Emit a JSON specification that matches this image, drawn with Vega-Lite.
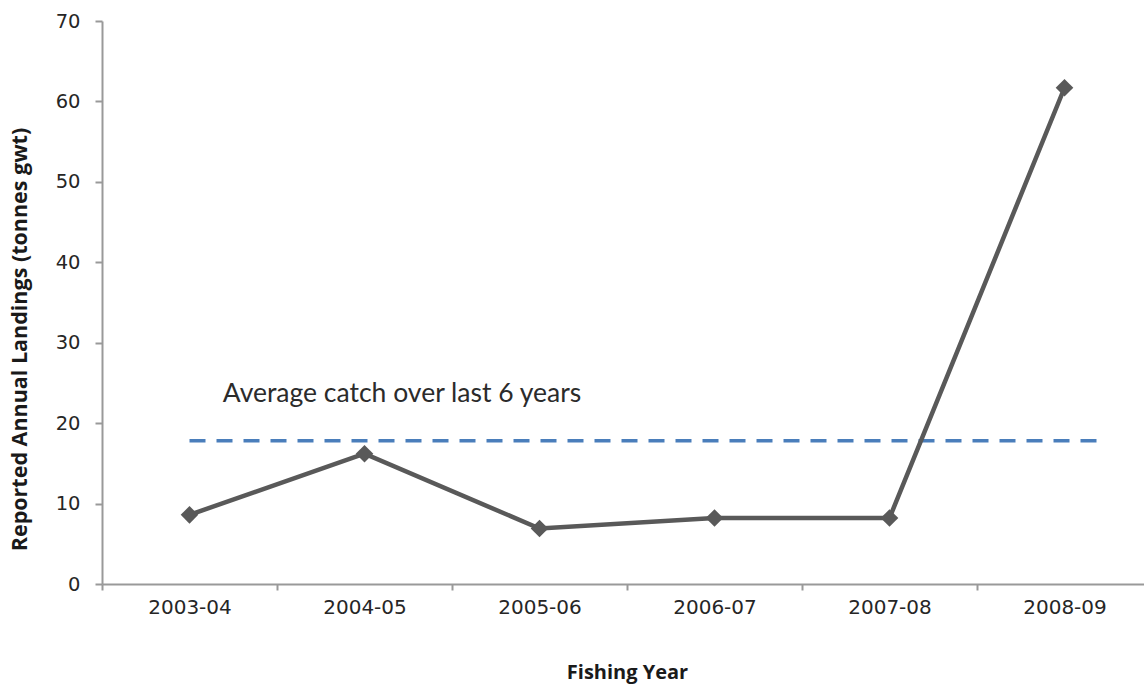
{
  "$schema": "https://vega.github.io/schema/vega-lite/v6.json",
  "autosize": {"type": "none"},
  "padding": {"left": 102, "top": 21, "right": 0, "bottom": 102},
  "width": 1042,
  "height": 563,
  "background": "white",
  "config": {"view": {"stroke": null}},
  "datasets": {
    "landings": [
      {"year": "2003-04", "landings": 8.6},
      {"year": "2004-05", "landings": 16.2},
      {"year": "2005-06", "landings": 6.9},
      {"year": "2006-07", "landings": 8.2},
      {"year": "2007-08", "landings": 8.2},
      {"year": "2008-09", "landings": 61.7}
    ],
    "average": [
      {"start": "2003-04", "end": "2008-09", "average": 17.8}
    ],
    "note": [
      {"year": "2003-04", "value": 22.6, "label": "Average catch over last 6 years"}
    ]
  },
  "encoding": {
    "x": {
      "field": "year",
      "type": "nominal",
      "sort": null,
      "scale": {"type": "band", "domain": ["2003-04", "2004-05", "2005-06", "2006-07", "2007-08", "2008-09"], "range": [0, 1050], "paddingInner": 0, "paddingOuter": 0},
      "axis": {
        "title": "Fishing Year",
        "titleFont": "Open Sans",
        "titleFontSize": 20,
        "titleFontWeight": "bold",
        "titleColor": "#1a1a1a",
        "titleX": 525,
        "titleY": 94,
        "titleAlign": "center",
        "titleBaseline": "alphabetic",
        "labelFont": "DejaVu Sans",
        "labelFontSize": 20,
        "labelColor": "#262626",
        "labelAngle": 0,
        "labelPadding": 7,
        "tickBand": "extent",
        "tickSize": 6,
        "tickColor": "#999999",
        "tickWidth": 2,
        "domainColor": "#999999",
        "domainWidth": 2,
        "grid": false
      }
    }
  },
  "layer": [
    {
      "data": {"name": "average"},
      "mark": {"type": "rule", "color": "#4a7ebb", "strokeWidth": 3.5, "strokeDash": [16, 11]},
      "encoding": {
        "x": {"field": "start", "type": "nominal", "bandPosition": 0.5},
        "x2": {"field": "end", "bandPosition": 0.7},
        "y": {"field": "average", "type": "quantitative"}
      }
    },
    {
      "data": {"name": "note"},
      "mark": {"type": "text", "align": "left", "baseline": "alphabetic", "font": "Lato", "fontSize": 26.5, "color": "#2b2b2b"},
      "encoding": {
        "x": {"field": "year", "type": "nominal", "bandPosition": 0.69},
        "y": {"field": "value", "type": "quantitative"},
        "text": {"field": "label"}
      }
    },
    {
      "data": {"name": "landings"},
      "mark": {"type": "line", "color": "#595959", "strokeWidth": 4.5},
      "encoding": {
        "x": {"field": "year", "type": "nominal", "bandPosition": 0.5},
        "y": {
          "field": "landings",
          "type": "quantitative",
          "scale": {"domain": [0, 70], "nice": false},
          "axis": {
            "title": "Reported Annual Landings  (tonnes gwt)",
            "titleFont": "Open Sans",
            "titleFontSize": 21.5,
            "titleFontWeight": "bold",
            "titleColor": "#1a1a1a",
            "titleAngle": -90,
            "titleX": -76,
            "titleY": 318,
            "titleAlign": "center",
            "titleBaseline": "alphabetic",
            "values": [0, 10, 20, 30, 40, 50, 60, 70],
            "labelFont": "DejaVu Sans",
            "labelFontSize": 19.5,
            "labelColor": "#262626",
            "labelPadding": 15,
            "tickSize": 7,
            "tickColor": "#999999",
            "tickWidth": 2,
            "domainColor": "#999999",
            "domainWidth": 2,
            "grid": false
          }
        }
      }
    },
    {
      "data": {"name": "landings"},
      "mark": {"type": "point", "shape": "diamond", "filled": true, "size": 310, "color": "#595959", "opacity": 1},
      "encoding": {
        "x": {"field": "year", "type": "nominal", "bandPosition": 0.5},
        "y": {"field": "landings", "type": "quantitative"}
      }
    }
  ]
}
